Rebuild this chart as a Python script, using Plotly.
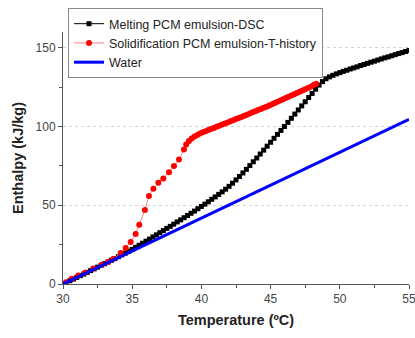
import numpy as np
import plotly.graph_objects as go

# Melting curve (DSC), sampled every 0.25 ºC from 30 to 55 ºC
melt_temp = np.round(np.arange(30.0, 55.0001, 0.25), 2)
melt_enthalpy = [
    0.0, 1.0, 2.1, 3.1, 4.2, 5.3, 6.3, 7.4, 8.5, 9.6,
    10.7, 11.8, 12.9, 14.0, 15.1, 16.2, 17.3, 18.5, 19.6, 20.8,
    22.0, 23.3, 24.6, 25.9, 27.2, 28.5, 29.9, 31.2, 32.6, 33.9,
    35.3, 36.6, 38.0, 39.4, 40.7, 42.1, 43.5, 44.9, 46.3, 47.8,
    49.2, 50.7, 52.2, 53.8, 55.3, 56.9, 58.5, 60.2, 62.0, 64.0,
    66.1, 68.3, 70.5, 72.8, 75.2, 77.6, 80.0, 82.5, 85.0, 87.5,
    90.0, 92.5, 95.0, 97.5, 100.0, 102.6, 105.2, 107.9, 110.5, 113.1,
    115.7, 118.4, 121.0, 123.7, 126.3, 128.5, 130.3, 131.5, 132.5, 133.4,
    134.2, 135.0, 135.7, 136.5, 137.2, 137.9, 138.7, 139.4, 140.1, 140.8,
    141.5, 142.2, 142.9, 143.6, 144.2, 144.9, 145.6, 146.3, 146.9, 147.6,
    148.3,
]

# Solidification curve (T-history)
solid_temp = [
    30.0, 30.22, 30.63, 31.1, 31.59, 32.19, 32.8, 33.27, 33.63, 34.17,
    34.53, 34.89, 35.25, 35.51, 35.92, 36.21, 36.53, 36.89, 37.25, 37.66,
    38.02, 38.38, 38.74,
    38.9, 39.1, 39.3, 39.5, 39.7, 39.9, 40.1, 40.3, 40.5, 40.7,
    40.9, 41.1, 41.3, 41.5, 41.7, 41.9, 42.1, 42.3, 42.5, 42.7,
    42.9, 43.1, 43.3, 43.5, 43.7, 43.9, 44.1, 44.3, 44.5, 44.7,
    44.9, 45.1, 45.3, 45.5, 45.7, 45.9, 46.1, 46.3, 46.5, 46.7,
    46.9, 47.1, 47.3, 47.5, 47.7, 47.9, 48.1, 48.3,
]
solid_enthalpy = [
    0.0, 1.1, 3.3, 5.4, 7.1, 9.8, 12.3, 14.0, 15.9, 19.7,
    22.9, 26.7, 31.7, 37.6, 47.0, 55.9, 60.5, 64.3, 67.0, 70.9,
    75.0, 79.0, 85.4,
    88.5, 90.8, 92.4, 93.6, 94.6, 95.5, 96.3, 97.0, 97.7, 98.4,
    99.1, 99.8, 100.5, 101.2, 101.9, 102.6, 103.3, 104.0, 104.7, 105.4,
    106.1, 106.8, 107.5, 108.2, 109.0, 109.7, 110.4, 111.1, 111.9, 112.6,
    113.4, 114.1, 114.9, 115.7, 116.5, 117.3, 118.1, 118.9, 119.7, 120.5,
    121.3, 122.1, 122.9, 123.7, 124.5, 125.3, 126.4, 127.2,
]

# Sensible heat of water
water_temp = [30, 35, 40, 45, 50, 55]
water_enthalpy = [0.0, 20.9, 41.8, 62.7, 83.6, 104.5]

x_ticks = [30, 35, 40, 45, 50, 55]
y_ticks = [0, 50, 100, 150]

FONT = "Arial, Liberation Sans, sans-serif"

fig = go.Figure()
fig.add_trace(go.Scatter(
    x=melt_temp, y=melt_enthalpy, mode="lines+markers",
    name="Melting PCM emulsion-DSC",
    line=dict(color="black", width=1),
    marker=dict(symbol="square", size=5, color="black"),
))
fig.add_trace(go.Scatter(
    x=solid_temp, y=solid_enthalpy, mode="lines+markers",
    name="Solidification PCM emulsion-T-history",
    line=dict(color="#ff8080", width=1),
    marker=dict(symbol="circle", size=6, color="#ff0000"),
))
fig.add_trace(go.Scatter(
    x=water_temp, y=water_enthalpy, mode="lines",
    name="Water",
    line=dict(color="#0000ff", width=3),
))

axis_common = dict(
    showline=True, linecolor="#555555", linewidth=1,
    ticks="outside", ticklen=4, tickcolor="#555555", tickwidth=1,
    tickfont=dict(family=FONT, size=12, color="#444444"),
    ticklabeloverflow="allow", automargin=False,
    zeroline=False, mirror=False,
)

fig.update_xaxes(
    range=[30, 55], tickvals=x_ticks, showgrid=False,
    minor=dict(ticks="outside", ticklen=3, tickcolor="#555555", dtick=2.5, showgrid=False),
    title=dict(text="<b>Temperature (ºC)</b>", font=dict(family=FONT, size=14.5, color="#222222"), standoff=9),
    **axis_common,
)
fig.update_yaxes(
    range=[0, 160], tickvals=y_ticks,
    showgrid=True, gridcolor="#d4d4d4", griddash="dot", gridwidth=1,
    minor=dict(ticks="outside", ticklen=3, tickcolor="#555555", dtick=25, showgrid=False),
    title=dict(text="<b>Enthalpy (kJ/kg)</b>", font=dict(family=FONT, size=14.5, color="#222222"), standoff=8),
    **axis_common,
)

fig.update_layout(
    width=415, height=338,
    margin=dict(l=63, r=6, t=32, b=54),
    paper_bgcolor="white", plot_bgcolor="white",
    font=dict(family=FONT, color="#222222"),
    legend=dict(
        x=0.0145, y=1.095, xanchor="left", yanchor="top",
        bgcolor="white", bordercolor="#888888", borderwidth=1,
        font=dict(family=FONT, size=12.5, color="#222222"),
        tracegroupgap=0, itemwidth=30,
    ),
    showlegend=True,
)

fig.write_html("out.html")
